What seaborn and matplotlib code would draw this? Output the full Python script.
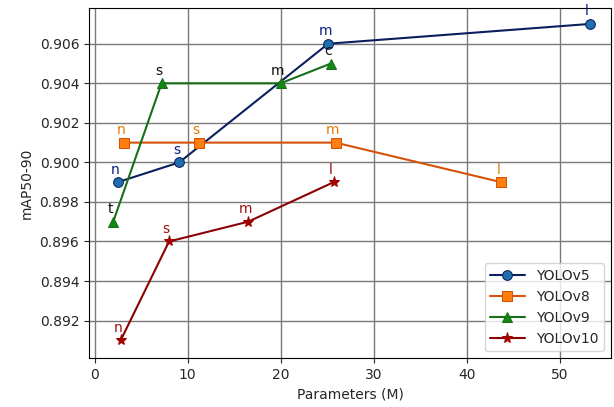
import matplotlib
matplotlib.use("Agg")
import matplotlib.pyplot as plt
import seaborn as sns
import pandas as pd

# --- Data ---
v5_params = [2.5, 9.1, 25.1, 53.2]
v5_map = [0.899, 0.900, 0.906, 0.907]
v5_tags = ["n", "s", "m", "l"]

v8_params = [3.2, 11.2, 25.9, 43.7]
v8_map = [0.901, 0.901, 0.901, 0.899]
v8_tags = ["n", "s", "m", "l"]

v9_params = [2.0, 7.2, 20.0, 25.4]
v9_map = [0.897, 0.904, 0.904, 0.905]
v9_tags = ["t", "s", "m", "c"]

v10_params = [2.8, 8.0, 16.5, 25.7]
v10_map = [0.891, 0.896, 0.897, 0.899]
v10_tags = ["n", "s", "m", "l"]

series = [
    ("YOLOv5", v5_params, v5_map, v5_tags, "o", "#0b1f5e", "#1f6fb0", "#0b1f8a"),
    ("YOLOv8", v8_params, v8_map, v8_tags, "s", "#d4520a", "#ff7f0e", "#e07c00"),
    ("YOLOv9", v9_params, v9_map, v9_tags, "^", "#1a6e1a", "#118811", "#111111"),
    ("YOLOv10", v10_params, v10_map, v10_tags, "*", "#8b0000", "#a00000", "#a01010"),
]

sns.set_style("white")
plt.rcParams["font.family"] = ["DejaVu Sans"]

fig, ax = plt.subplots(figsize=(6.14, 4.07), dpi=100)

for name, xs, ys, tags, mk, line_c, face_c, text_c in series:
    df = pd.DataFrame({"params": xs, "map": ys})
    sns.lineplot(data=df, x="params", y="map", ax=ax, sort=False, color=line_c,
                 marker=mk, markersize=8 if mk == "*" else 7, markerfacecolor=face_c,
                 markeredgecolor=line_c if mk != "*" else face_c, linewidth=1.5, label=name)
    for x, y, t in zip(xs, ys, tags):
        ax.annotate(t, (x, y), textcoords="offset points", xytext=(-2, 4),
                    ha="center", va="bottom", fontsize=10, color=text_c)

ax.set_xlim(-0.6, 55.5)
ax.set_ylim(0.8901, 0.9078)
ax.set_yticks([0.892, 0.894, 0.896, 0.898, 0.900, 0.902, 0.904, 0.906])
ax.set_xlabel("Parameters (M)")
ax.set_ylabel("mAP50-90")
ax.grid(True, color="#7a7a7a", linewidth=1)
for s in ax.spines.values():
    s.set_color("black")
ax.tick_params(axis="both", direction="out", length=3.5, width=0.8, left=True, bottom=True)
ax.legend(loc="lower right", fontsize=10, handlelength=2.5)

plt.subplots_adjust(left=0.145, right=0.995, top=0.98, bottom=0.12)
plt.savefig("out.png", dpi=100)
